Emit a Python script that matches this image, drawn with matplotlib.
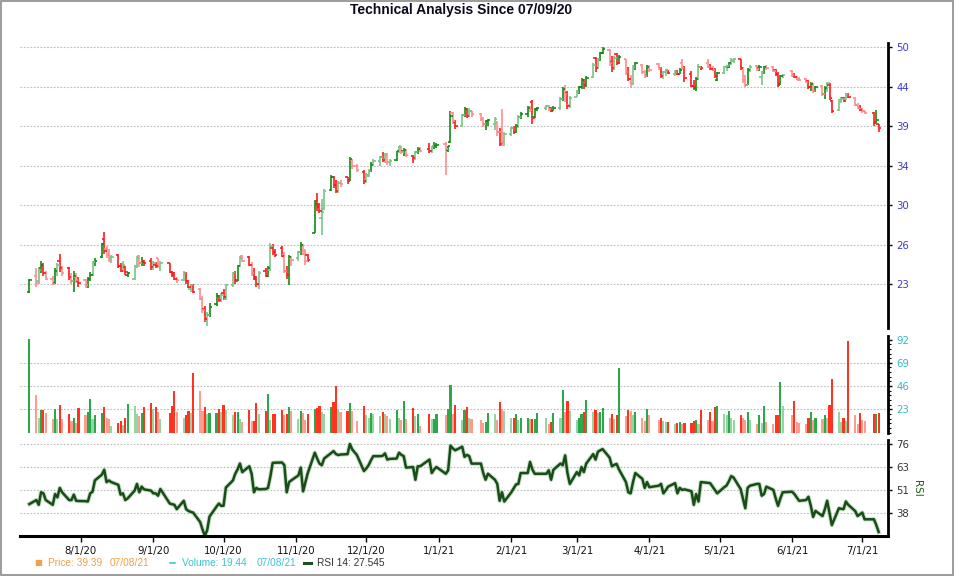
import numpy as np
import pandas as pd
import matplotlib
matplotlib.use('Agg')
import matplotlib.pyplot as plt
import matplotlib.dates as mdates
from matplotlib.ticker import FixedLocator, NullLocator, MultipleLocator
from matplotlib.patches import Rectangle
from matplotlib.lines import Line2D

# trading days 7/10/20 .. 7/8/21
holidays = ['2020-09-07', '2020-11-26', '2020-12-25', '2021-01-01', '2021-01-18',
            '2021-02-15', '2021-04-02', '2021-05-31', '2021-07-05']
days = pd.bdate_range('2020-07-10', '2021-07-08')
days = days[~days.isin(pd.to_datetime(holidays))]

# one row per week
opens = [22.4,
    23.6, 23.2, 24.2, 24.4, 23.8,  23.4, 23.1, 24.0, 24.8, 24.2,
    24.2, 23.5, 23.2, 23.5, 23.2,  23.3, 22.9, 23.4, 23.7, 24.7,
    25.1, 26.6, 25.8, 25.3, 25.0,  25.3, 24.4, 24.0, 24.3, 23.7,
    23.4, 24.4, 25.2, 24.6, 24.8,  24.8, 24.3, 24.5, 25.0, 24.4,
    24.6, 23.9, 23.8, 23.4,        23.3, 23.8, 23.2, 22.6, 22.9,
    22.6, 21.9, 21.2, 20.4, 20.8,  21.5, 22.1, 21.8, 22.3, 21.9,
    22.9, 23.8, 23.3, 24.4, 25.2,  25.1, 24.5, 23.8, 23.4, 22.9,
    24.0, 23.6, 24.1, 25.9, 25.5,  25.9, 25.3, 24.0, 23.7, 25.0,
    25.0, 25.5, 26.1, 25.6, 25.3,  27.2, 30.2, 29.8, 28.5, 29.4,
    31.3, 32.7, 31.8, 31.2, 32.0,  32.6, 32.3, 34.5, 33.9,
    33.2, 32.3, 32.8, 33.3, 34.0,  34.4, 34.9, 34.6, 35.2, 34.3,
    34.5, 35.5, 36.1, 35.5, 35.7,  35.0, 34.7, 35.4, 35.9,
    35.8, 35.5, 36.1, 36.2,        36.4, 35.7, 36.6, 40.3, 39.1,
    38.6, 40.0, 40.8, 39.9, 40.5,  40.2, 39.5, 38.8, 39.2,
    38.8, 39.0, 37.8, 37.8, 36.6,  37.6, 38.3, 37.8, 38.6, 39.8,
    40.1, 41.0, 41.8, 39.8, 40.8,  40.9, 41.2, 40.9, 40.6,
    40.9, 42.2, 43.5, 43.0, 41.4,  42.5, 43.2, 43.8, 44.8, 44.2,
    45.3, 48.2, 46.7, 48.0, 49.0,  49.5, 47.6, 46.6, 48.9, 47.5,
    48.0, 46.0, 45.0, 44.4, 46.8,  47.2, 46.0, 45.4, 46.9,
    47.3, 46.7, 45.4, 46.0, 46.3,  45.8, 46.1, 45.8, 47.5, 46.7,
    45.8, 44.0, 43.7, 45.0, 46.8,  47.4, 46.8, 46.6, 46.4, 44.9,
    45.9, 46.8, 46.9, 47.3, 47.8,  48.0, 46.6, 45.4, 44.2, 46.3,
    47.0, 46.6, 45.3, 46.0, 46.8,  46.9, 46.3, 45.8, 44.3, 45.4,
    46.2, 45.6, 45.3, 45.0,        45.0, 44.7, 43.8, 44.4, 43.3,
    44.0, 42.9, 43.8, 44.2, 41.9,  40.7, 42.0, 42.3, 42.2, 42.9,
    42.3, 41.4, 41.0, 40.8, 40.5,  40.3, 39.1, 38.8]
highs = [23.4,
    24.2, 24.3, 24.8, 24.6, 24.0,  23.6, 24.2, 24.6, 25.4, 24.4,
    24.3, 23.8, 24.0, 23.8, 23.5,  23.4, 23.5, 23.9, 24.8, 25.0,
    26.3, 27.3, 26.0, 25.8, 25.3,  25.4, 24.6, 24.8, 24.4, 23.9,
    24.5, 25.2, 25.3, 25.1, 24.9,  25.0, 24.8, 24.7, 25.0, 24.8,
    24.6, 24.0, 23.9, 23.5,        24.0, 23.9, 23.3, 23.0, 23.0,
    22.7, 22.1, 21.4, 21.0, 21.6,  22.3, 22.2, 22.3, 22.6, 23.0,
    23.9, 24.0, 24.5, 25.2, 25.3,  25.2, 24.7, 24.2, 23.6, 24.0,
    24.2, 24.4, 26.3, 26.2, 25.8,  26.0, 25.5, 24.4, 25.3, 25.2,
    25.6, 26.4, 26.2, 25.8, 25.4,  30.3, 31.0, 30.0, 30.4, 31.4,
    32.9, 32.8, 32.3, 32.2, 32.3,  32.7, 34.9, 34.6, 34.1,
    33.4, 33.1, 33.5, 34.3, 34.6,  35.0, 35.4, 35.3, 35.3, 34.6,
    35.6, 36.2, 36.2, 35.9, 35.8,  35.1, 35.6, 36.0, 36.0,
    36.5, 36.2, 36.6, 36.5,        36.6, 36.2, 40.5, 40.4, 39.4,
    40.2, 41.1, 41.0, 40.9, 40.6,  40.3, 39.8, 39.4, 39.5,
    39.8, 39.2, 38.3, 40.8, 37.9,  38.5, 38.6, 38.8, 40.0, 40.4,
    41.2, 41.2, 42.0, 41.0, 41.1,  41.4, 41.4, 41.1, 41.2,
    42.4, 43.9, 44.2, 43.3, 42.6,  43.4, 44.0, 45.1, 45.0, 45.4,
    47.4, 48.4, 48.3, 49.2, 50.0,  49.6, 48.5, 48.6, 49.0, 48.7,
    48.1, 46.8, 45.6, 47.2, 47.6,  47.3, 46.3, 47.2, 47.1,
    47.5, 46.8, 46.2, 46.5, 46.4,  46.3, 46.3, 46.6, 48.0, 47.0,
    46.2, 44.8, 45.3, 47.3, 47.0,  48.0, 47.3, 47.0, 46.6, 46.1,
    47.0, 47.2, 47.6, 48.2, 48.2,  48.1, 46.8, 45.6, 46.6, 47.1,
    47.2, 47.1, 46.2, 47.0, 47.1,  47.0, 46.5, 46.0, 45.6, 45.8,
    46.3, 45.9, 45.4, 45.3,        45.1, 44.8, 44.6, 44.5, 44.0,
    44.1, 44.0, 44.6, 44.4, 42.0,  42.2, 42.4, 42.5, 43.0, 43.0,
    42.4, 41.6, 41.3, 40.9, 40.6,  40.4, 40.7, 38.9]
lows = [22.3,
    22.8, 23.0, 23.8, 23.6, 23.3,  22.9, 23.0, 23.6, 23.9, 23.6,
    23.3, 23.0, 22.4, 23.1, 22.8,  22.7, 22.7, 23.2, 23.6, 24.4,
    25.0, 25.4, 25.0, 24.7, 24.6,  24.2, 23.9, 23.9, 23.7, 23.5,
    23.3, 24.2, 24.3, 24.4, 24.4,  24.1, 24.1, 24.2, 24.2, 24.0,
    23.8, 23.5, 23.3, 23.1,        23.2, 23.0, 22.7, 22.4, 22.3,
    21.8, 20.9, 20.3, 20.0, 20.6,  21.4, 21.7, 21.7, 21.8, 21.8,
    22.8, 23.0, 23.2, 24.3, 24.7,  24.4, 23.6, 23.3, 22.8, 22.6,
    23.5, 23.5, 24.0, 25.3, 25.1,  25.1, 23.8, 23.4, 22.9, 24.4,
    24.8, 25.3, 25.3, 24.5, 24.7,  27.2, 29.2, 29.0, 27.0, 29.3,
    31.2, 31.5, 31.0, 31.0, 31.6,  31.9, 32.2, 33.5, 33.2,
    31.9, 32.0, 32.6, 33.2, 33.8,  33.9, 34.3, 34.2, 34.0, 33.9,
    34.4, 35.3, 35.2, 35.0, 34.9,  34.2, 34.5, 35.2, 35.4,
    35.3, 35.3, 35.8, 35.9,        32.9, 35.4, 36.5, 38.9, 38.2,
    38.5, 39.8, 39.6, 39.7, 39.8,  39.2, 38.5, 38.1, 38.6,
    38.1, 37.4, 36.1, 36.2, 36.1,  37.3, 37.6, 37.7, 38.4, 39.5,
    39.8, 40.4, 38.8, 39.6, 40.5,  40.7, 40.6, 40.4, 40.5,
    40.7, 41.9, 41.8, 40.8, 41.0,  42.4, 42.9, 43.5, 43.6, 43.8,
    45.2, 46.0, 46.5, 47.8, 48.8,  47.0, 46.1, 46.4, 47.1, 47.3,
    45.6, 44.7, 43.7, 44.2, 46.3,  45.8, 45.1, 45.3, 46.0,
    46.4, 45.1, 45.0, 45.4, 45.7,  45.5, 45.6, 45.7, 46.3, 44.6,
    43.8, 43.4, 43.3, 44.9, 46.4,  46.6, 46.3, 46.2, 45.2, 44.7,
    45.8, 46.2, 46.7, 47.1, 47.5,  46.4, 44.4, 43.9, 44.1, 46.1,
    46.2, 46.2, 44.2, 45.8, 46.4,  46.0, 45.5, 43.8, 44.1, 45.1,
    45.3, 45.2, 44.8, 44.7,        44.4, 43.5, 43.3, 43.0, 43.1,
    42.6, 42.1, 43.1, 42.0, 40.3,  40.6, 41.6, 41.8, 42.0, 42.3,
    41.2, 40.8, 40.5, 40.3, 40.2,  38.6, 39.0, 37.9]
closes = [23.3,
    23.1, 24.1, 24.5, 23.8, 23.4,  23.0, 24.0, 24.5, 24.2, 23.8,
    23.5, 23.2, 23.6, 23.3, 23.1,  22.9, 23.4, 23.7, 24.7, 24.8,
    26.2, 25.6, 25.3, 24.9, 25.1,  24.4, 24.0, 24.5, 23.9, 23.8,
    24.4, 25.0, 24.6, 24.7, 24.6,  24.3, 24.6, 24.4, 24.4, 24.6,
    23.9, 23.7, 23.4, 23.3,        23.8, 23.2, 22.8, 22.9, 22.4,
    21.9, 21.1, 20.5, 20.8, 21.3,  22.1, 21.8, 22.2, 22.0, 22.9,
    23.8, 23.2, 24.4, 25.0, 24.8,  24.5, 23.8, 23.5, 23.0, 23.8,
    23.6, 24.2, 26.0, 25.5, 25.3,  25.2, 24.0, 23.7, 25.1, 24.9,
    25.5, 26.1, 25.4, 24.8, 24.9,  29.9, 29.6, 29.2, 29.1, 31.2,
    32.6, 31.8, 31.2, 32.0, 31.9,  32.2, 34.6, 33.8, 33.4,
    32.2, 32.9, 33.3, 34.0, 34.4,  34.9, 34.5, 35.1, 34.3, 34.4,
    35.5, 36.0, 35.4, 35.7, 35.1,  34.7, 35.4, 35.8, 35.6,
    35.5, 36.1, 36.2, 36.3,        35.8, 36.1, 39.9, 39.2, 38.6,
    40.0, 40.8, 39.9, 40.5, 40.2,  39.5, 38.9, 39.2, 39.3,
    39.5, 37.8, 36.4, 36.5, 37.6,  38.3, 37.8, 38.6, 39.8, 40.2,
    41.0, 40.7, 39.6, 40.8, 40.9,  41.2, 40.8, 40.6, 41.0,
    42.2, 43.6, 42.8, 41.2, 42.3,  43.2, 43.8, 44.8, 44.2, 45.2,
    47.2, 46.6, 48.0, 49.0, 49.6,  47.4, 46.6, 48.2, 47.5, 48.4,
    46.0, 45.0, 44.3, 46.8, 47.4,  46.0, 45.4, 46.9, 46.3,
    46.6, 45.5, 46.0, 46.3, 45.9,  46.1, 45.8, 46.4, 46.6, 45.2,
    44.0, 43.8, 45.0, 46.8, 46.7,  46.8, 46.5, 46.4, 45.5, 45.9,
    46.8, 47.0, 47.4, 47.9, 48.0,  46.7, 44.8, 44.1, 46.3, 46.9,
    46.5, 46.9, 46.0, 46.8, 46.6,  46.2, 45.7, 44.1, 45.4, 45.6,
    45.6, 45.3, 44.9, 44.8,        44.6, 43.8, 44.3, 43.3, 43.8,
    42.9, 43.7, 44.4, 42.3, 40.6,  42.0, 42.2, 41.9, 42.8, 42.4,
    41.4, 41.0, 40.7, 40.5, 40.3,  39.0, 39.3, 38.4]
volumes = [93,
    37, 15, 22, 22, 19,  14, 23, 14, 27, 14,  18, 12, 15, 10, 24,  17, 20, 33, 14, 17,
    19, 25, 15, 14, 7,   10, 12, 8, 15, 28,   26, 18, 16, 19, 25,  29, 23, 25, 20, 14,
    19, 26, 41, 20,      15, 17, 21, 19, 59,  41, 21, 25, 18, 19,  19, 23, 20, 27, 22,
    17, 20, 20, 14, 11,  22, 12, 12, 29, 18,  21, 38, 13, 18, 18,  22, 17, 18, 25, 21,
    14, 21, 19, 13, 18,  23, 24, 26, 20, 18,  25, 30, 46, 22, 20,  21, 29, 21, 12,
    26, 17, 15, 19, 18,  16, 20, 18, 16, 14,  22, 15, 13, 31, 14,  24, 16, 18, 7,
    18, 14, 14, 18,      17, 23, 47, 18, 27,  13, 22, 25, 15, 14,  13, 10, 11, 19,
    18, 13, 30, 23, 21,  15, 15, 18, 13, 15,  15, 14, 14, 14, 19,  15, 9, 11, 19,
    15, 42, 20, 31, 21,  13, 15, 18, 20, 32,  20, 22, 19, 20, 24,  15, 18, 14, 17, 64,
    16, 22, 21, 17, 20,  15, 12, 23, 17,      13, 15, 12, 11, 11,  9, 10, 11, 9, 10,
    10, 12, 13, 9, 22,   13, 20, 12, 25, 26,  18, 17, 21, 15, 13,  17, 15, 13, 20, 13,
    9, 17, 10, 26, 11,   9, 17, 17, 50, 26,   17, 31, 11, 10,      9, 15, 20, 13, 15,
    14, 17, 15, 27, 53,  20, 11, 15, 12, 91,  17, 9, 19, 13, 12,   18, 18, 19.44]
rsi = [42.9,
    45.1, 42.5, 49.4, 48.8, 45.1,  42.5, 48.4, 46.6, 51.8, 49.4,
    45.1, 45.1, 48.1, 44.7, 44.6,  44.5, 44.3, 48.8, 49.7, 55.9,
    59.1, 61.8, 55.0, 55.9, 55.0,  53.5, 48.1, 48.8, 45.1, 46.0,
    50.3, 54.0, 49.4, 52.5, 51.0,  50.3, 48.8, 48.8, 47.5, 51.2,
    43.2, 42.8, 42.5, 40.1,        44.7, 40.1, 39.1, 38.6, 38.2,
    33.0, 29.0, 25.3, 28.5, 36.0,  41.5, 43.2, 41.9, 42.0, 52.0,
    55.9, 59.6, 62.0, 65.2, 60.5,  63.7, 59.6, 49.4, 51.8, 51.0,
    51.2, 51.8, 58.0, 65.6, 65.7,  65.8, 64.3, 49.4, 55.0, 56.0,
    58.7, 63.0, 49.9, 55.0, 60.0,  71.2, 68.0, 65.2, 64.3, 68.0,
    71.0, 72.1, 70.5, 69.9, 70.2,  70.4, 76.0, 73.0, 69.9,
    61.1, 62.5, 64.3, 67.0, 69.3,  69.3, 69.5, 70.8, 67.4, 67.8,
    68.0, 71.2, 70.0, 69.3, 63.0,  63.3, 56.3, 63.7, 63.7,
    67.4, 60.0, 62.0, 63.3,        59.6, 61.5, 75.1, 73.6, 72.5,
    74.5, 68.9, 70.0, 69.3, 65.2,  65.2, 60.0, 56.3, 59.6,
    56.3, 54.0, 44.7, 49.4, 44.3,  49.4, 51.5, 53.7, 54.0, 60.0,
    60.0, 66.1, 62.0, 59.6, 59.6,  59.6, 61.5, 56.3, 61.8,
    65.2, 64.3, 69.7, 60.0, 54.0,  60.5, 58.7, 63.3, 60.5, 65.2,
    70.4, 67.4, 71.7, 72.5, 73.2,  68.5, 63.7, 64.5, 65.0, 62.0,
    55.0, 49.4, 48.8, 55.0, 60.0,  56.8, 51.8, 55.0, 52.2,
    53.0, 54.0, 48.8, 50.5, 52.5,  54.4, 48.8, 51.8, 50.7, 51.0,
    50.0, 42.5, 48.4, 44.3, 55.0,  54.6, 54.4, 52.5, 50.5, 48.8,
    52.2, 53.1, 55.5, 58.3, 57.5,  51.2, 46.0, 40.6, 51.8, 53.0,
    54.0, 54.0, 47.5, 48.4, 52.5,  50.7, 46.0, 41.9, 46.0, 49.4,
    49.7, 48.4, 46.5, 44.7,        45.1, 46.9, 42.0, 35.8, 39.1,
    36.3, 40.0, 44.7, 38.0, 31.3,  40.6, 40.3, 40.1, 44.3, 42.5,
    39.0, 36.3, 37.2, 38.2, 34.5,  34.5, 31.3, 27.545]

price_labels = ['50', '44', '39', '34', '30', '26', '23']
vol_ticks = [23, 46, 69, 92]
rsi_labels = ['38', '51', '63', '76']

o = np.array(opens); h = np.array(highs); l = np.array(lows); c = np.array(closes)
v = np.array(volumes)
x = mdates.date2num(days)

# colour by close vs open, paler when the day's volume fell
up = c >= o
prev_v = np.r_[v[0], v[:-1]]
pale = v < prev_v
pcols = np.where(up, np.where(pale, '#7cc486', '#128a12'),
                 np.where(pale, '#ff8c8c', '#ff1a1a'))
vcols = np.where(up, np.where(pale, '#92d6a4', '#2aa84a'),
                 np.where(pale, '#ff9c8e', '#ff3320'))

W, H = 960, 576
fig = plt.figure(figsize=(9.6, 5.76), dpi=100)


def box(x0, y0, x1, y1):
    return [x0 / W, 1 - y1 / H, (x1 - x0) / W, (y1 - y0) / H]


axp = fig.add_axes(box(20, 43, 888, 328))
axv = fig.add_axes(box(20, 336, 888, 432.7), sharex=axp)
axr = fig.add_axes(box(20, 440, 888, 536), sharex=axp)

xlim = mdates.date2num(pd.to_datetime(['2020-07-06', '2021-07-12']))
grid_kw = dict(color='#bdbdbd', lw=0.8, ls=(0, (1.5, 1.5)), zorder=0)

for ax, lab_col in ((axp, '#3c3cc8'), (axv, '#30b8c8'), (axr, '#333333')):
    for s in ('left', 'top', 'bottom'):
        ax.spines[s].set_visible(False)
    ax.spines['right'].set_linewidth(2)
    ax.yaxis.tick_right()
    ax.tick_params(axis='y', which='major', direction='out', length=3, width=1,
                   pad=3, labelsize=7.3, labelcolor=lab_col)
    ax.tick_params(axis='y', which='minor', direction='out', length=2, width=0.8)
    ax.tick_params(axis='x', which='both', bottom=False, labelbottom=False)
    ax.set_facecolor('none')

# price bars
axp.vlines(x, l, h, colors=pcols, lw=1.2)
axp.hlines(o, x - 1.0, x, colors=pcols, lw=1.2)
axp.hlines(c, x, x + 1.0, colors=pcols, lw=1.2)
axp.set_yscale('log')
axp.set_ylim(19.9, 50.66)
pticks = np.geomspace(50, 22.98, len(price_labels))
axp.yaxis.set_major_locator(FixedLocator(pticks))
axp.yaxis.set_minor_locator(NullLocator())
axp.set_yticklabels(price_labels)
for t in pticks:
    axp.axhline(t, **grid_kw)

# volume
axv.bar(x, volumes, width=0.9, color=vcols, linewidth=0)
axv.set_ylim(0, 95.5)
axv.set_yticks(vol_ticks)
axv.yaxis.set_minor_locator(MultipleLocator(23 / 5))
for t in vol_ticks[:-1]:
    axv.axhline(t, **grid_kw)

# RSI
axr.plot(x, rsi, color='#8fbf8f', lw=3.2, alpha=0.5, solid_joinstyle='round')
axr.plot(x, rsi, color='#184d18', lw=1.8, solid_joinstyle='round')
axr.set_ylim(25.3, 78.2)
rticks = np.linspace(38, 76, len(rsi_labels))
axr.set_yticks(rticks)
axr.set_yticklabels(rsi_labels)
for t in rticks:
    axr.axhline(t, **grid_kw)
axr.spines['bottom'].set_visible(True)
axr.spines['bottom'].set_linewidth(2.2)
months = pd.date_range('2020-08-01', '2021-07-01', freq='MS')
axr.set_xticks(mdates.date2num(months))
axr.set_xticklabels([f'{d.month}/{d.day}/{d.year % 100:02d}' for d in months])
axr.tick_params(axis='x', which='major', bottom=True, labelbottom=True, direction='out',
                length=4, width=1, pad=3, labelsize=7.3, labelcolor='#111111')
axr.set_xlim(*xlim)
axr.text(1.033, 0.5, 'RSI', transform=axr.transAxes, rotation=270, va='center',
         ha='center', fontsize=7.5, color='#1f5f1f')

fig.text(461 / W, 1 - 10 / H, 'Technical Analysis Since 07/09/20', ha='center',
         va='center', fontsize=10, fontweight='bold', family='Liberation Sans',
         color='#0a0a1e')

# bottom legend
ly = 1 - 563 / H
lk = dict(va='center', fontsize=7.3, family='Liberation Sans')
fig.text(34 / W, ly, '\u25a0', color='#f2a048', fontsize=6, va='center')
fig.text(48 / W, ly, 'Price: 39.39', color='#f2a048', **lk)
fig.text(110 / W, ly, '07/08/21', color='#f2a048', **lk)
fig.add_artist(Line2D([170 / W, 175 / W], [ly, ly], color='#40c4cc', lw=1.2))
fig.text(182 / W, ly, 'Volume: 19.44', color='#40c4cc', **lk)
fig.text(257 / W, ly, '07/08/21', color='#40c4cc', **lk)
fig.add_artist(Line2D([304 / W, 311 / W], [ly, ly], color='#1f4f1f', lw=2.2))
fig.text(317 / W, ly, 'RSI 14: 27.545', color='#333333', **lk)

fig.add_artist(Rectangle((0.6 / W, 1 - 575 / H), 952.5 / W, 574.4 / H, fill=False,
                         edgecolor='#8a8a8a', lw=1.2, transform=fig.transFigure))

fig.savefig('out.png', dpi=100)
